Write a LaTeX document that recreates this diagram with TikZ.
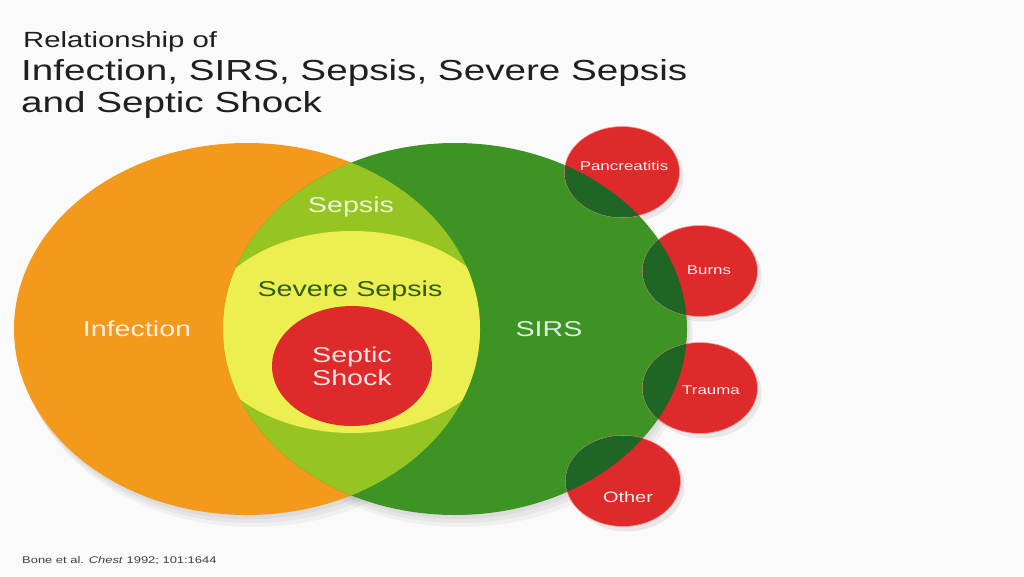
\documentclass[tikz,border=0pt]{standalone}
\usepackage{fontspec}
\newfontfamily\widesans[FakeStretch=1.333]{Liberation Sans}
\usetikzlibrary{positioning}
\definecolor{paper}{HTML}{FAFAFA}
\definecolor{infectionorange}{HTML}{F39A1C}
\definecolor{sirsgreen}{HTML}{3D9324}
\definecolor{sepsisgreen}{HTML}{96C523}
\definecolor{severeyellow}{HTML}{EDEE50}
\definecolor{shockred}{HTML}{DE2A2A}
\definecolor{overlapgreen}{HTML}{1F6526}
\definecolor{severetext}{HTML}{2F5C19}
\newcommand{\infectionpath}{(247,329) ellipse [x radius=233pt, y radius=186pt]}
\newcommand{\sirspath}{(455,329) ellipse [x radius=232pt, y radius=186pt]}
\newcommand{\severepath}{(352,332) ellipse [x radius=150pt, y radius=101pt]}
\newcommand{\shockpath}{(352,366) ellipse [x radius=80pt, y radius=60pt]}
\tikzset{
  bigtext/.style={font=\widesans\fontsize{21.5}{23}\selectfont, inner sep=0pt, align=center},
  smalltext/.style={font=\widesans\fontsize{12.7}{14}\selectfont, inner sep=0pt, anchor=base, text=white!92!red},
  titletext/.style={inner sep=0pt, anchor=base west, text=black!88},
  causeshape/.style={fill=shockred, draw=red!40!white, line width=0.6pt},
}

\begin{document}
\begin{tikzpicture}[x=1pt, y=-1pt]
				
				\useasboundingbox (0,0) rectangle (1024,576);
				\fill[paper] (0,0) rectangle (1024,576);
				
				% soft shadows
				\foreach \s in {2,4,6} {
					\begin{scope}[shift={(\s,2*\s)}, fill=black, opacity=0.04]
						\fill \infectionpath;
						\fill \sirspath;
					\end{scope}
				}
				\foreach \cx/\cy in {622/172, 700/271, 700/388, 623/481} {
					\fill[black, opacity=0.07] (\cx+4,\cy+5) ellipse [x radius=57.5pt, y radius=45.5pt];
				}
				
				\fill[infectionorange] \infectionpath;
				\fill[sirsgreen] \sirspath;
				
				\begin{scope}
					\clip \infectionpath;
					\fill[sepsisgreen] \sirspath;
					\clip \sirspath;
					\fill[severeyellow] \severepath;
				\end{scope}
				\fill[shockred] \shockpath;
				
				\foreach \cx/\cy in {622/172, 700/271, 700/388, 623/481} {
					\fill[causeshape] (\cx,\cy) ellipse [x radius=57.5pt, y radius=45.5pt];
				}
				\begin{scope}
					\clip \sirspath;
					\foreach \cx/\cy in {622/172, 700/271, 700/388, 623/481} {
						\fill[overlapgreen] (\cx,\cy) ellipse [x radius=57.5pt, y radius=45.5pt];
					}
				\end{scope}
				
				% labels
				\node[bigtext, anchor=base, text=white!82!sepsisgreen] (sepsis) at (351,212) {Sepsis};
				\node[bigtext, anchor=base, text=severetext] (severe) at (350,296) {Severe Sepsis};
				\node[bigtext, text=white!90!red] (shock) at (352,366) {Septic\\Shock};
				\node[bigtext, anchor=base, text=white!88!orange] (infection) at (137,336) {Infection};
				\node[bigtext, anchor=base, text=white!84!sirsgreen] (sirs) at (549,336) {SIRS};
				
				\node[smalltext] (pancreatitis) at (624,170) {Pancreatitis};
				\node[smalltext] (burns) at (709,274) {Burns};
				\node[smalltext] (trauma) at (711,394) {Trauma};
				\node[smalltext, font=\widesans\fontsize{15}{17}\selectfont] (other) at (628,502) {Other};
				
				% title and source
				\node[titletext, font=\widesans\fontsize{22}{26}\selectfont] (heading) at (23,47) {Relationship of};
				\node[titletext, font=\widesans\fontsize{29}{32}\selectfont] (topic) at (21,80) {Infection, SIRS, Sepsis, Severe Sepsis};
				\node[titletext, font=\widesans\fontsize{29}{32}\selectfont] (topicend) at (21,112) {and Septic Shock};
				\node[titletext, font=\widesans\fontsize{9.7}{11}\selectfont, text=black!75] (source) at (22,563) {Bone et al. \textit{Chest} 1992; 101:1644};
				
\end{tikzpicture}
\end{document}
